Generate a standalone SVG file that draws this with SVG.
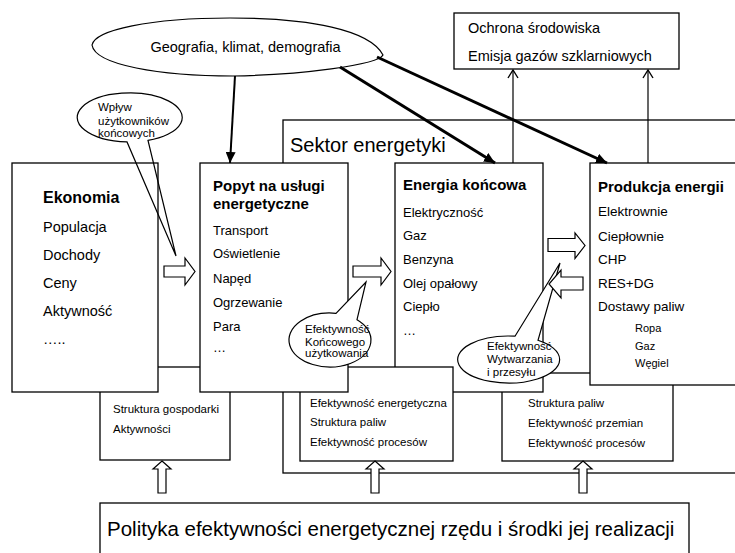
<svg xmlns="http://www.w3.org/2000/svg" width="735" height="553" viewBox="0 0 735 553">
<style>
.box{fill:#fff;stroke:#000;stroke-width:1.3}
.bub{fill:#fff;stroke:#000;stroke-width:1.2}
text{font-family:"Liberation Sans",Arial,Helvetica,sans-serif;fill:#000}
.h{font-size:15px;font-weight:bold}
.hb{font-size:16px;font-weight:bold}
.i{font-size:13px}
.e{font-size:14.5px}
.p{font-size:13.5px}
.s{font-size:11.5px}
.x{font-size:11px}
.ha{fill:#fff;stroke:#000;stroke-width:1.2}
</style>
<defs>
<marker id="fa" viewBox="0 0 11 10" refX="11" refY="5" markerWidth="11" markerHeight="10" markerUnits="userSpaceOnUse" orient="auto"><path d="M0,0 L11,5 L0,10 Z" fill="#000"/></marker>
<marker id="oa" viewBox="0 0 10 12" refX="9" refY="6" markerWidth="10" markerHeight="12" markerUnits="userSpaceOnUse" orient="auto"><path d="M1,1 L9,6 L1,11" fill="none" stroke="#000" stroke-width="1.4"/></marker>
</defs>
<rect x="0" y="0" width="735" height="553" fill="#fff"/>

<g id="sektor">
<rect class="box" x="283" y="120" width="480" height="353"/>
<text x="290" y="152" font-size="20">Sektor energetyki</text>
</g>

<g id="struktura-gospodarki">
<rect class="box" x="100" y="367" width="130" height="93"/>
<text class="s" x="113" y="413">Struktura gospodarki</text>
<text class="s" x="113" y="433">Aktywności</text>
</g>

<g id="struktura-paliw">
<rect class="box" x="502" y="373" width="171" height="88"/>
<text class="s" x="528" y="407">Struktura paliw</text>
<text class="s" x="528" y="427">Efektywność przemian</text>
<text class="s" x="528" y="447">Efektywność procesów</text>
</g>

<g id="energia-koncowa">
<rect class="box" x="395" y="163" width="148" height="229"/>
<text class="h" x="403" y="190">Energia końcowa</text>
<text class="i" x="403" y="217">Elektryczność</text>
<text class="i" x="403" y="240">Gaz</text>
<text class="i" x="403" y="264">Benzyna</text>
<text class="i" x="403" y="288">Olej opałowy</text>
<text class="i" x="403" y="311">Ciepło</text>
<text class="i" x="403" y="335">…</text>
</g>

<g id="efektywnosc-energetyczna">
<rect class="box" x="300" y="367" width="153" height="94"/>
<text class="s" x="310" y="407">Efektywność energetyczna</text>
<text class="s" x="310" y="426">Struktura paliw</text>
<text class="s" x="310" y="446">Efektywność procesów</text>
</g>

<g id="ekonomia">
<rect class="box" x="12" y="163" width="146" height="229"/>
<text class="hb" x="43" y="203">Ekonomia</text>
<text class="e" x="43" y="232">Populacja</text>
<text class="e" x="43" y="260">Dochody</text>
<text class="e" x="43" y="288">Ceny</text>
<text class="e" x="43" y="316">Aktywność</text>
<text class="e" x="43" y="344">…..</text>
</g>

<g id="popyt">
<rect class="box" x="200" y="163" width="148" height="229"/>
<text class="h" x="213" y="191">Popyt na usługi</text>
<text class="h" x="213" y="209">energetyczne</text>
<text class="i" x="213" y="235">Transport</text>
<text class="i" x="213" y="258">Oświetlenie</text>
<text class="i" x="213" y="283">Napęd</text>
<text class="i" x="213" y="307">Ogrzewanie</text>
<text class="i" x="213" y="331">Para</text>
<text class="i" x="213" y="352">…</text>
</g>

<g id="produkcja">
<rect class="box" x="590" y="163" width="200" height="222"/>
<text class="h" x="598" y="191.5">Produkcja energii</text>
<text class="p" x="598" y="216">Elektrownie</text>
<text class="p" x="598" y="240.5">Ciepłownie</text>
<text class="p" x="598" y="263.5">CHP</text>
<text class="p" x="598" y="287.5">RES+DG</text>
<text class="p" x="598" y="310.5">Dostawy paliw</text>
<text class="x" x="635" y="331.5">Ropa</text>
<text class="x" x="635" y="349.5">Gaz</text>
<text class="x" x="635" y="367">Węgiel</text>
</g>

<g id="ochrona">
<rect class="box" x="454" y="13" width="225" height="56"/>
<text class="e" x="468" y="33">Ochrona środowiska</text>
<text class="e" x="468" y="61">Emisja gazów szklarniowych</text>
</g>

<g id="polityka">
<rect class="box" x="100" y="503" width="589" height="70"/>
<text x="107" y="535.5" font-size="20.5">Polityka efektywności energetycznej rzędu i środki jej realizacji</text>
</g>

<g id="geografia">
<path class="bub" d="M92,45 C95,30 150,18 230,18 C310,18 370,30 383,55 C378,65 300,75 233,76 C160,76 95,65 92,45 Z"/>
<text x="245.5" y="52" font-size="14.5" text-anchor="middle">Geografia, klimat, demografia</text>
</g>

<g id="wplyw">
<path d="M148,140.4 A52.5,24.5 0 1 0 127,141.9 L176,256 Z" fill="none" stroke="#000" stroke-width="1.2"/>
<text class="s" x="98" y="111">Wpływ</text>
<text class="s" x="98" y="125">użytkowników</text>
<text class="s" x="98" y="137">końcowych</text>
</g>

<g id="efektywnosc-koncowego">
<path class="bub" d="M336,313.3 A41,27 0 1 0 357,319.7 L366,282 Z"/>
<text class="s" x="305" y="333">Efektywność</text>
<text class="s" x="305" y="346">Końcowego</text>
<text class="s" x="305" y="357">użytkowania</text>
</g>

<g id="efektywnosc-wytwarzania">
<path class="bub" d="M515,336.2 A51,23.5 0 1 0 538,340.3 L560,263 Z"/>
<text class="s" x="487" y="350">Efektywność</text>
<text class="s" x="487" y="363">Wytwarzania</text>
<text class="s" x="487" y="376">i przesyłu</text>
</g>

<g id="connectors">
<line x1="235" y1="76" x2="230" y2="163" stroke="#000" stroke-width="2" marker-end="url(#fa)"/>
<line x1="340" y1="67" x2="495" y2="163" stroke="#000" stroke-width="3" marker-end="url(#fa)"/>
<line x1="377" y1="57" x2="607" y2="163" stroke="#000" stroke-width="3" marker-end="url(#fa)"/>
<line x1="513" y1="163" x2="513" y2="70" stroke="#000" stroke-width="1.2" marker-end="url(#oa)"/>
<line x1="648" y1="163" x2="648" y2="70" stroke="#000" stroke-width="1.2" marker-end="url(#oa)"/>
<polygon class="ha" points="164,266 185,266 185,258 195,271.5 185,285 185,277 164,277"/>
<polygon class="ha" points="353,266 381,266 381,258 391,271.5 381,285 381,277 353,277"/>
<polygon class="ha" points="548,238.5 575,238.5 575,233 585,245.5 575,258.5 575,251.5 548,251.5"/>
<polygon class="ha" points="583,277 561,277 561,270 549,284 561,298 561,290 583,290"/>
<polygon class="ha" points="162,461 171,469 166,469 166,493 158,493 158,469 153,469"/>
<polygon class="ha" points="375,461 384,469 379,469 379,493 371,493 371,469 366,469"/>
<polygon class="ha" points="583,461 592,469 587,469 587,493 579,493 579,469 574,469"/>
</g>
</svg>
